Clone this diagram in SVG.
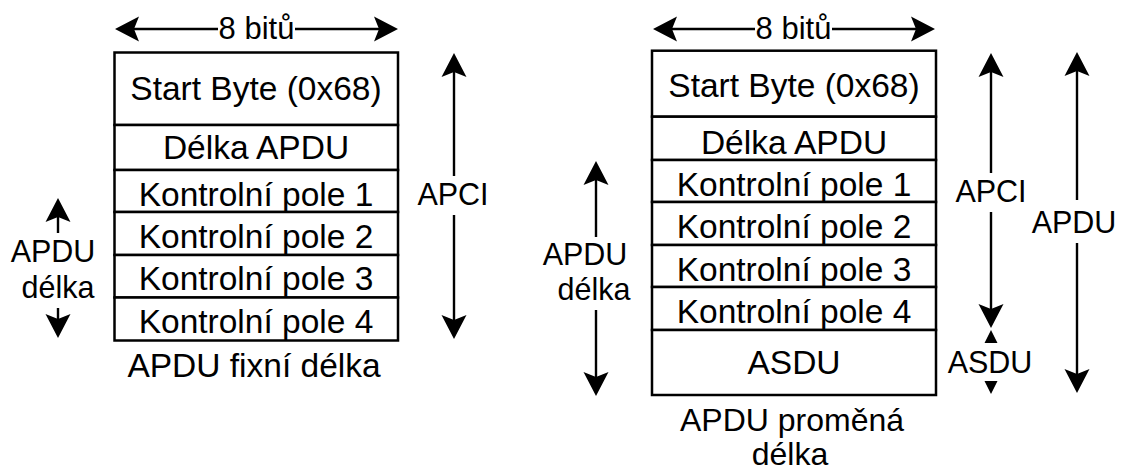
<svg xmlns="http://www.w3.org/2000/svg" width="1121" height="472" viewBox="0 0 1121 472">
<style>
text{font-family:"Liberation Sans",Arial,Helvetica,sans-serif;font-size:33.5px;fill:#000;text-anchor:middle}
.cell{fill:#fff;stroke:#000;stroke-width:2.5}
.ln{stroke:#000;stroke-width:2.4;fill:none;marker-end:url(#ah)}
.s8{font-size:31px}
.lbl{font-size:30.5px}
.cap{font-size:32px}
</style>
<defs>
<marker id="ah" viewBox="-6 -14 28 28" markerWidth="28" markerHeight="28" refX="0" refY="0" orient="auto" markerUnits="userSpaceOnUse">
<path d="M19,0 L-5,-12.5 L0,0 L-5,12.5 Z" fill="#000"/>
</marker>
</defs>
<rect width="1121" height="472" fill="#fff"/>

<g id="left-table">
<g id="l-start"><rect class="cell" x="114.5" y="52.5" width="283.5" height="72.5"/><text x="256" y="100">Start Byte (0x68)</text></g>
<g id="l-delka"><rect class="cell" x="114.5" y="125" width="283.5" height="45"/><text x="256" y="159">Délka APDU</text></g>
<g id="l-kp1"><rect class="cell" x="114.5" y="170" width="283.5" height="42"/><text x="256" y="205.5">Kontrolní pole 1</text></g>
<g id="l-kp2"><rect class="cell" x="114.5" y="212" width="283.5" height="43"/><text x="256" y="248">Kontrolní pole 2</text></g>
<g id="l-kp3"><rect class="cell" x="114.5" y="255" width="283.5" height="42.5"/><text x="256" y="290">Kontrolní pole 3</text></g>
<g id="l-kp4"><rect class="cell" x="114.5" y="297.5" width="283.5" height="43"/><text x="256" y="333">Kontrolní pole 4</text></g>
</g>

<g id="right-table">
<g id="r-start"><rect class="cell" x="652" y="50.7" width="284" height="66"/><text x="794" y="97">Start Byte (0x68)</text></g>
<g id="r-delka"><rect class="cell" x="652" y="116.7" width="284" height="43.3"/><text x="794" y="153.5">Délka APDU</text></g>
<g id="r-kp1"><rect class="cell" x="652" y="160" width="284" height="42"/><text x="794" y="195.5">Kontrolní pole 1</text></g>
<g id="r-kp2"><rect class="cell" x="652" y="202" width="284" height="43"/><text x="794" y="238">Kontrolní pole 2</text></g>
<g id="r-kp3"><rect class="cell" x="652" y="245" width="284" height="42"/><text x="794" y="280.5">Kontrolní pole 3</text></g>
<g id="r-kp4"><rect class="cell" x="652" y="287" width="284" height="43"/><text x="794" y="323">Kontrolní pole 4</text></g>
<g id="r-asdu"><rect class="cell" x="652" y="330" width="284" height="65"/><text x="794" y="374">ASDU</text></g>
</g>

<g id="labels">
<g id="l-8bitu"><text class="s8" x="256.5" y="39">8 bitů</text></g>
<g id="r-8bitu"><text class="s8" x="793.5" y="39">8 bitů</text></g>
<g id="l-apci"><text class="lbl" x="453" y="205">APCI</text></g>
<g id="l-apdu-delka"><text class="lbl" x="53" y="262">APDU</text><text class="lbl" x="58" y="298">délka</text></g>
<g id="l-caption"><text x="254" y="377">APDU fixní délka</text></g>
<g id="r-apdu-delka"><text class="lbl" x="585" y="265">APDU</text><text class="lbl" x="594" y="300">délka</text></g>
<g id="r-apci"><text class="lbl" x="991" y="201.7">APCI</text></g>
<g id="r-asdu-lbl"><text class="lbl" x="990" y="373">ASDU</text></g>
<g id="r-apdu"><text class="lbl" x="1074" y="233">APDU</text></g>
<g id="r-caption"><text class="cap" x="792" y="431">APDU proměná</text><text class="cap" x="790" y="465">délka</text></g>
</g>

<g id="connectors">
<path class="ln" d="M218,29 L134,29"/>
<path class="ln" d="M295,29 L379,29"/>
<path class="ln" d="M755,29 L672,29"/>
<path class="ln" d="M832,29 L916,29"/>
<path class="ln" d="M454,176 L454,72"/>
<path class="ln" d="M454,215 L454,320"/>
<path class="ln" d="M58,233 L58,217"/>
<path class="ln" d="M58,308 L58,319"/>
<path class="ln" d="M596,237 L596,180"/>
<path class="ln" d="M596,310 L596,377"/>
<path class="ln" d="M991,173 L991,72"/>
<path class="ln" d="M991,212 L991,309"/>
<path class="ln" d="M1077,200 L1077,71"/>
<path class="ln" d="M1077,243 L1077,374"/>
<path d="M991,330 L984.5,343 L997.5,343 Z M984.5,381 L997.5,381 L991,394 Z" fill="#000"/>
</g>
</svg>
